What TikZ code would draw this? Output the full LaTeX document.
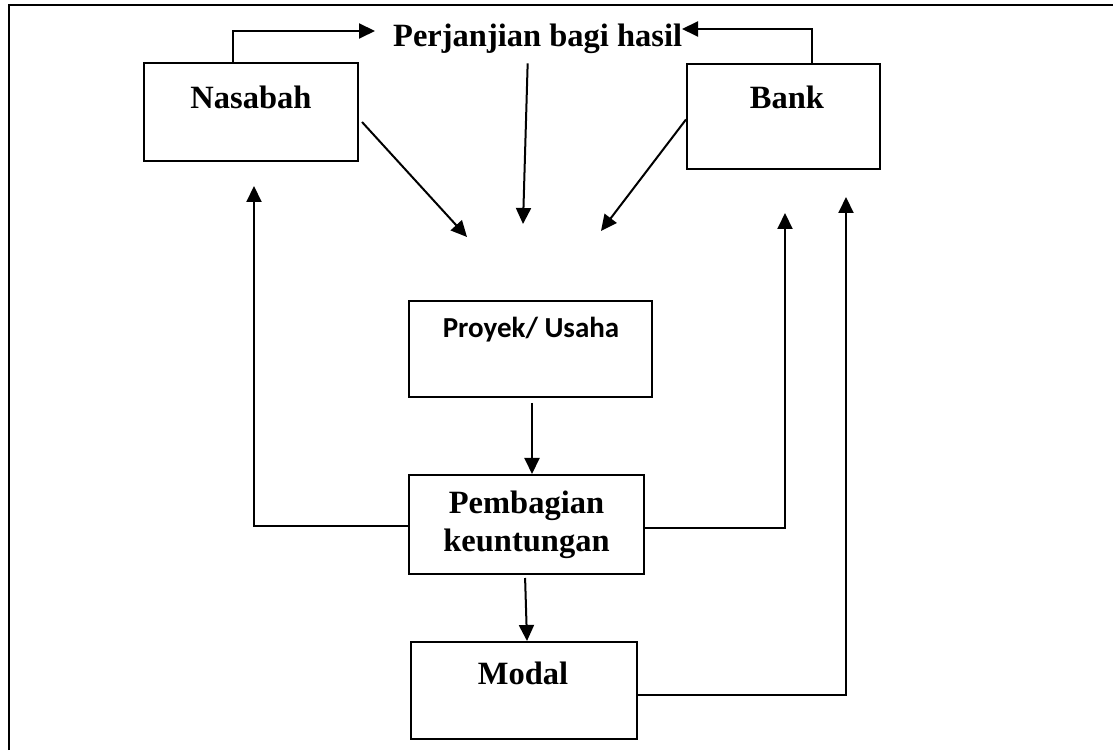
\documentclass[tikz,border=0pt]{standalone}
\usepackage{fontspec}
\setmainfont{Liberation Serif}
\newfontfamily\calib{Carlito}
\usetikzlibrary{arrows.meta}
\begin{document}
\begin{tikzpicture}[x=1pt,y=1pt,
  box/.style={draw, line width=2pt, inner sep=0pt, minimum width=#1},
  lbl/.style={inner sep=0pt, font=\fontsize{32.5}{38}\selectfont\bfseries},
  arr/.style={line width=2pt, -{Triangle[length=16pt,width=15pt]}}]
\useasboundingbox (0,0) rectangle (1113,750);
% outer frame
\draw[line width=2.2pt] (9,0) -- (9,745) -- (1113,745);
% boxes
\node[box=214pt, minimum height=98pt] (nas) at (251,638) {};
\node[box=193pt, minimum height=105pt] (bank) at (783.5,633.5) {};
\node[box=243pt, minimum height=96pt] (proy) at (530.5,401) {};
\node[box=235pt, minimum height=99pt, align=center, font=\fontsize{32.5}{38}\selectfont\bfseries] (pemb) at (526.5,225.5) {Pembagian\\keuntungan};
\node[box=226pt, minimum height=97pt] (modal) at (524,59.5) {};
% labels
\node[lbl] (nasT) at (251,653) {Nasabah};
\node[lbl] (bankT) at (787,653) {Bank};
\node[inner sep=0pt, font=\calib\fontsize{29}{33}\selectfont\bfseries] (proyT) at (531,420) {Proyek/ Usaha};
\node[lbl] (modalT) at (523,77) {Modal};
\node[lbl, anchor=base west] (perj) at (393,703) {Perjanjian bagi hasil};
% free ends
\coordinate (tNP) at (375,719);
\coordinate (tBP) at (682,721);
\coordinate (tND) at (467,513);
\coordinate (tMid) at (523,526);
\coordinate (tBD) at (601,519);
\coordinate (tL) at (254,564);
\coordinate (tR) at (785,537);
\coordinate (tM) at (846,553);
% connectors
\draw[arr] ([xshift=-18pt]nas.north) |- (tNP);
\draw[arr] ([xshift=28.5pt]bank.north) |- (tBP);
\draw[arr] ([xshift=3pt,yshift=-10pt]nas.east) -- (tND);
\draw[arr] ([xshift=-10pt,yshift=-9pt]perj.south) -- (tMid);
\draw[arr] ([yshift=-3pt]bank.west) -- (tBD);
\draw[arr, shorten <=5pt] ([xshift=1.5pt]proy.south) -- ([xshift=5.5pt]pemb.north);
\draw[arr, shorten <=3pt] ([xshift=-1.5pt]pemb.south) -- ([xshift=3pt]modal.north);
\draw[arr] ([yshift=-1.5pt]pemb.west) -| (tL);
\draw[arr] ([yshift=-3.5pt]pemb.east) -| (tR);
\draw[arr] ([yshift=-4pt]modal.east) -| (tM);
\end{tikzpicture}
\end{document}
